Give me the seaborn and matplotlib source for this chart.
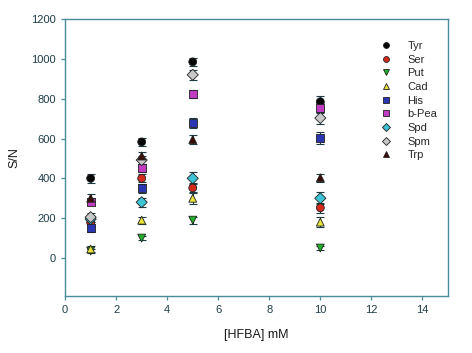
import numpy as np
import pandas as pd
import matplotlib
matplotlib.use("Agg")
import matplotlib.pyplot as plt
import seaborn as sns

# HFBA concentrations (mM)
hfba = [1, 3, 5, 10]

# S/N per analyte
analytes = ["Tyr", "Ser", "Put", "Cad", "His", "b-Pea", "Spd", "Spm", "Trp"]
tyr  = [400, 583, 985, 785]
ser  = [178, 400, 352, 252]
put  = [35, 100, 190, 50]
cad  = [45, 190, 300, 180]
his  = [150, 350, 680, 603]
bpea = [282, 452, 822, 752]
spd  = [195, 280, 400, 300]
spm  = [205, 492, 920, 703]
trp  = [300, 512, 595, 403]

# approximate error bar half-widths
err_tyr  = [22, 20, 20, 30]
err_ser  = [18, 20, 25, 25]
err_put  = [12, 12, 18, 12]
err_cad  = [15, 18, 30, 25]
err_his  = [20, 22, 25, 28]
err_bpea = [18, 20, 20, 25]
err_spd  = [15, 22, 30, 30]
err_spm  = [22, 22, 25, 28]
err_trp  = [20, 20, 25, 20]

values = [tyr, ser, put, cad, his, bpea, spd, spm, trp]
errors = [err_tyr, err_ser, err_put, err_cad, err_his, err_bpea, err_spd, err_spm, err_trp]

palette = {"Tyr": "#050505", "Ser": "#d42a1e", "Put": "#22b02a", "Cad": "#e8e43a",
           "His": "#2a36b0", "b-Pea": "#c03cc0", "Spd": "#3cc4d4", "Spm": "#c8c8c8",
           "Trp": "#3a0c08"}
markers = {"Tyr": "o", "Ser": "o", "Put": "v", "Cad": "^", "His": "s",
           "b-Pea": "s", "Spd": "D", "Spm": "D", "Trp": "^"}

df = pd.DataFrame({
    "HFBA": np.tile(hfba, len(analytes)),
    "SN": np.concatenate(values),
    "err": np.concatenate(errors),
    "Analyte": np.repeat(analytes, len(hfba)),
})

sns.set_style("ticks")
plt.rcParams["font.family"] = ["Liberation Sans", "DejaVu Sans"]

fig = plt.figure(figsize=(4.72, 3.53), dpi=100)
ax = fig.add_axes([0.138, 0.162, 0.811, 0.784])

for name in analytes:
    sub = df[df["Analyte"] == name]
    ax.errorbar(sub["HFBA"], sub["SN"], yerr=sub["err"], fmt="none",
                ecolor="#1c3c44", elinewidth=0.8, capsize=3, capthick=0.8, zorder=2)

sns.scatterplot(data=df, x="HFBA", y="SN", hue="Analyte", style="Analyte",
                hue_order=analytes, style_order=analytes,
                palette=palette, markers=markers, s=32, edgecolor="#202020",
                linewidth=0.6, ax=ax, zorder=3)

ax.set_xlim(0, 15)
ax.set_ylim(-190, 1200)
ax.set_xticks(range(0, 16, 2))
ax.set_yticks(range(0, 1201, 200))

spine_col = "#4a8c9a"
for sp in ax.spines.values():
    sp.set_visible(True)
    sp.set_color(spine_col)
    sp.set_linewidth(1.0)
ax.tick_params(colors=spine_col, labelcolor="#1e3c48", labelsize=8, length=3, width=0.9)

ax.set_xlabel("[HFBA] mM", fontsize=9, color="#1a1a1a", labelpad=10)
ax.set_ylabel("S/N", fontsize=9, color="#1a1a1a", labelpad=8)

ax.legend(loc="upper right", bbox_to_anchor=(0.99, 0.945), frameon=False,
          fontsize=8, handletextpad=0.9, labelspacing=0.33, markerscale=0.75,
          borderaxespad=0.2)

fig.savefig("out.png", dpi=100)
